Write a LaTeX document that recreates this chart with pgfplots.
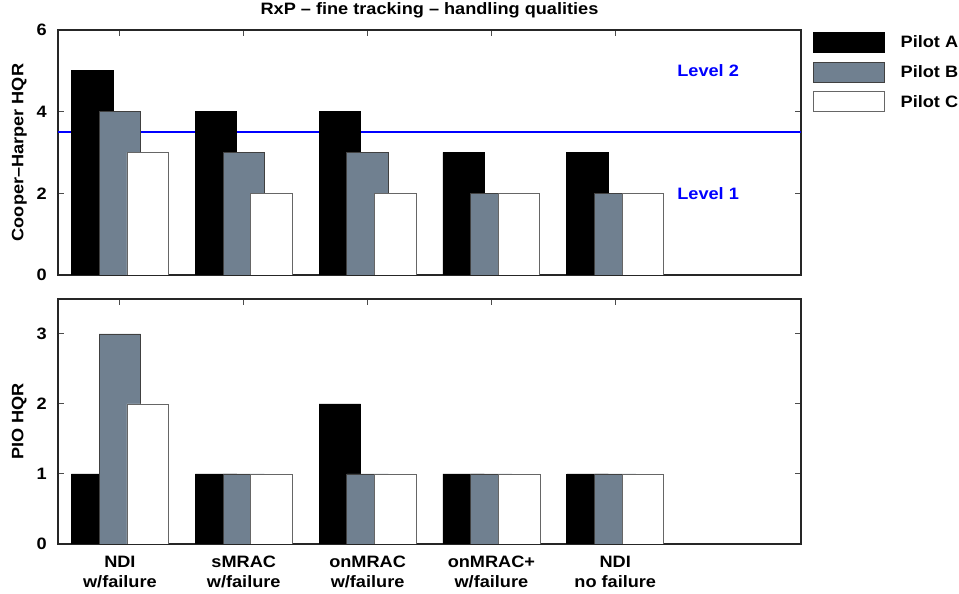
\documentclass[border=0pt]{standalone}
\usepackage{pgfplots}
\pgfplotsset{compat=1.18}
\usepackage{fontspec}
\setmainfont{Liberation Sans}[FakeStretch=1.1]
\definecolor{pilotB}{RGB}{112,128,144}
\definecolor{lvl}{RGB}{0,0,255}
\pgfplotsset{
  hq/.style={
    scale only axis, width=743pt, height=245pt,
    xmin=0.5, xmax=6.5, xtick={1,2,3,4,5},
    ybar, bar width=0.335,
    tick align=inside, major tick length=6pt,
    axis line style={line width=1.9pt, black!85},
    tick style={line width=1pt, black!70},
    /pgf/number format/assume math mode=true,
    tick label style={font=\bfseries\fontsize{16.5}{16.5}\selectfont},
    yticklabel style={inner sep=0pt, xshift=-11pt},
    every axis y label/.style={at={(axis description cs:-0.052,0.5)}, rotate=90, anchor=center,
      font=\bfseries\fontsize{16.5}{16.5}\selectfont},
    legend image code/.code={\draw[#1, line width=0.8pt] (0pt,-10pt) rectangle (71pt,10pt);},
  },
  pA/.style={fill=black, draw=black, line width=0.8pt, bar shift=-0.224},
  pB/.style={fill=pilotB, draw=black!75, line width=0.8pt, bar shift=0},
  pC/.style={fill=white, draw=black!60, line width=0.8pt, bar shift=0.224},
}
\begin{document}
\begin{tikzpicture}
\useasboundingbox (0,0) rectangle (959pt,594pt);
% top axis: Cooper-Harper
\begin{axis}[hq,
  at={(58pt,319pt)}, anchor=south west,
  ymin=0, ymax=6, ytick={0,2,4,6},
  xticklabels={},
  ylabel={Cooper--Harper HQR},
  title={RxP -- fine tracking -- handling qualities},
  title style={at={(0.5,1)}, anchor=base, yshift=9pt, inner sep=0pt,
    font=\bfseries\fontsize{16.5}{16.5}\selectfont},
  legend style={at={(1,1)}, anchor=north west, xshift=11.7pt, yshift=-1.7pt,
    draw=none, fill=none, inner sep=0pt, row sep=9pt,
    font=\bfseries\fontsize{16.5}{16.5}\selectfont,
    /tikz/every odd column/.append style={column sep=14pt}},
]
\addplot[lvl, line width=1.6pt, sharp plot, forget plot] coordinates {(0.5,3.5) (6.5,3.5)};
\addplot[pA] coordinates {(1,5) (2,4) (3,4) (4,3) (5,3)};
\addplot[pB] coordinates {(1,4) (2,3) (3,3) (4,2) (5,2)};
\addplot[pC] coordinates {(1,3) (2,2) (3,2) (4,2) (5,2)};
\legend{Pilot A, Pilot B, Pilot C}
\node[text=lvl, font=\bfseries\fontsize{16.5}{16.5}\selectfont] at (axis cs:5.75,5) {Level 2};
\node[text=lvl, font=\bfseries\fontsize{16.5}{16.5}\selectfont] at (axis cs:5.75,2) {Level 1};
\end{axis}
% bottom axis: PIO
\begin{axis}[hq,
  at={(58pt,50pt)}, anchor=south west,
  ymin=0, ymax=3.5, ytick={0,1,2,3},
  xticklabels={{NDI\\w/failure},{sMRAC\\w/failure},{onMRAC\\w/failure},{onMRAC+\\w/failure},{NDI\\no failure}},
  xticklabel style={align=center, inner sep=0pt, yshift=-12pt,
    font=\bfseries\fontsize{16.5}{20}\selectfont},
  ylabel={PIO HQR},
]
\addplot[pA] coordinates {(1,1) (2,1) (3,2) (4,1) (5,1)};
\addplot[pB] coordinates {(1,3) (2,1) (3,1) (4,1) (5,1)};
\addplot[pC] coordinates {(1,2) (2,1) (3,1) (4,1) (5,1)};
\end{axis}
\end{tikzpicture}
\end{document}
